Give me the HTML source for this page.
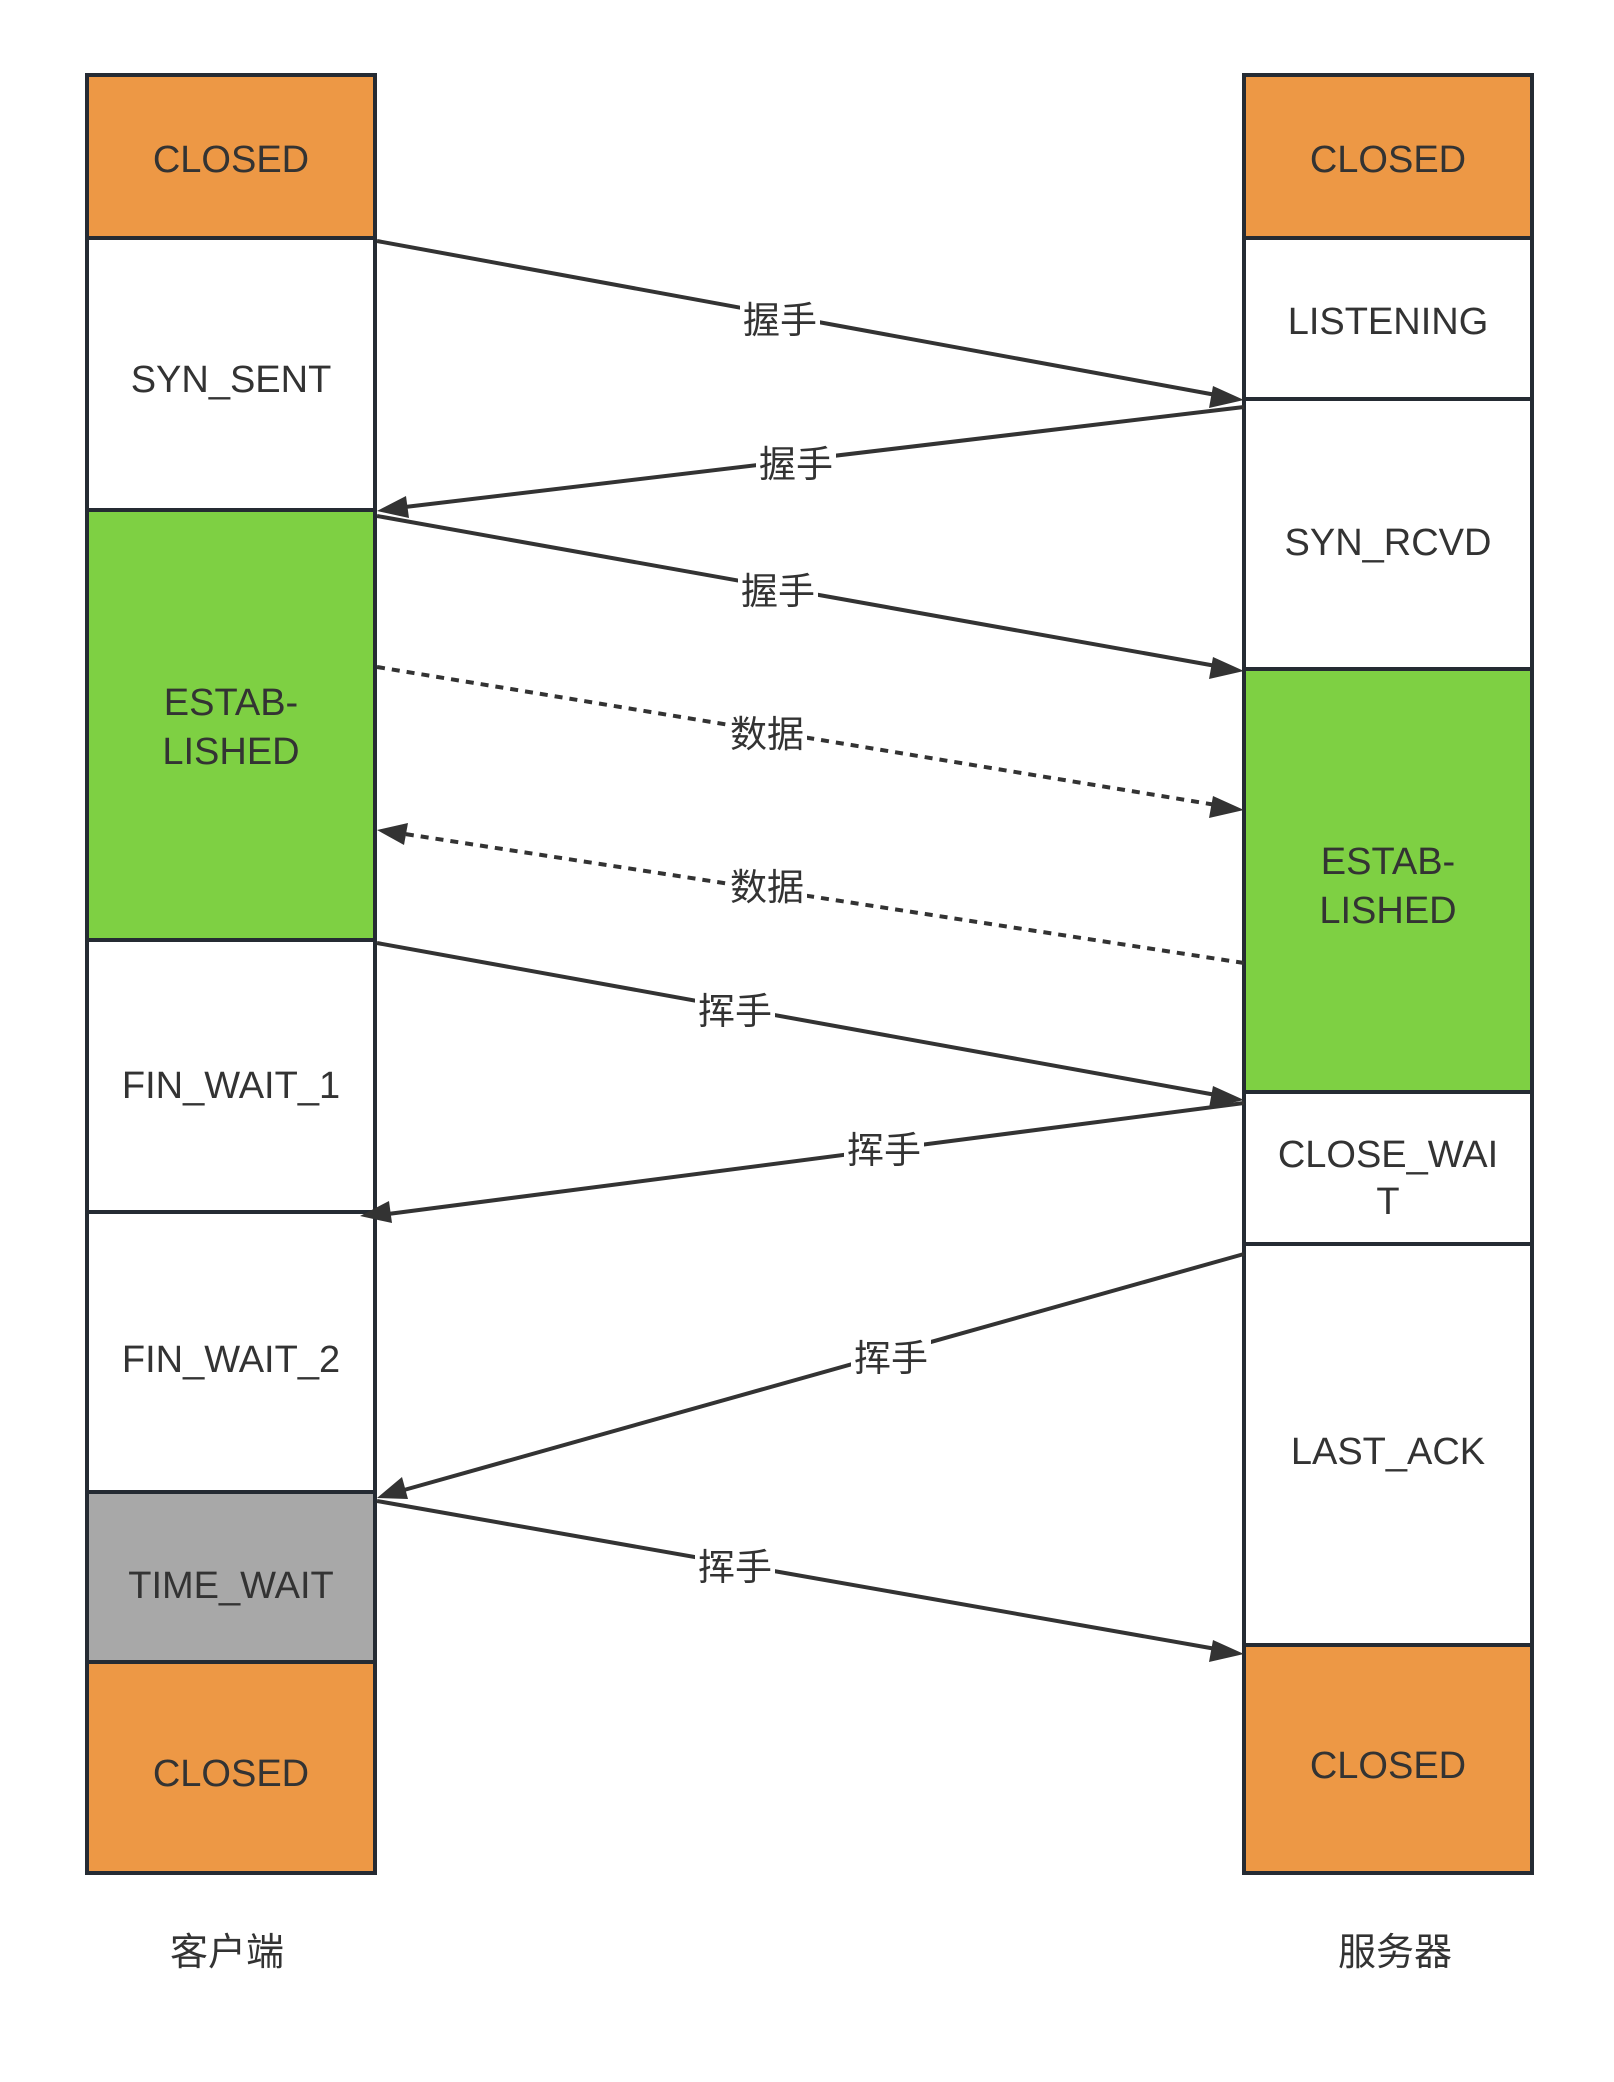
<!DOCTYPE html>
<html><head><meta charset="utf-8"><style>
html,body{margin:0;padding:0;background:#fff;}
svg{display:block;}
text{font-family:"Liberation Sans","Noto Sans CJK SC",sans-serif;fill:#333;}
</style></head><body>
<svg width="1614" height="2082" viewBox="0 0 1614 2082" xmlns="http://www.w3.org/2000/svg">
<g stroke="#252b33" stroke-width="4">
<rect x="87" y="75" width="288" height="163" fill="#ED9845"/>
<rect x="87" y="238" width="288" height="272" fill="#fff"/>
<rect x="87" y="510" width="288" height="430" fill="#7ED043"/>
<rect x="87" y="940" width="288" height="272" fill="#fff"/>
<rect x="87" y="1212" width="288" height="280" fill="#fff"/>
<rect x="87" y="1492" width="288" height="170" fill="#A8A8A8"/>
<rect x="87" y="1662" width="288" height="211" fill="#ED9845"/>
<rect x="1244" y="75" width="288" height="163" fill="#ED9845"/>
<rect x="1244" y="238" width="288" height="161" fill="#fff"/>
<rect x="1244" y="399" width="288" height="270" fill="#fff"/>
<rect x="1244" y="669" width="288" height="423" fill="#7ED043"/>
<rect x="1244" y="1092" width="288" height="152" fill="#fff"/>
<rect x="1244" y="1244" width="288" height="401" fill="#fff"/>
<rect x="1244" y="1645" width="288" height="228" fill="#ED9845"/>
</g>
<g font-size="38" text-anchor="middle">
<text x="231" y="172">CLOSED</text>
<text x="231" y="392">SYN_SENT</text>
<text x="231" y="715">ESTAB-</text>
<text x="231" y="764">LISHED</text>
<text x="231" y="1098">FIN_WAIT_1</text>
<text x="231" y="1372">FIN_WAIT_2</text>
<text x="231" y="1598">TIME_WAIT</text>
<text x="231" y="1786">CLOSED</text>
<text x="1388" y="172">CLOSED</text>
<text x="1388" y="334">LISTENING</text>
<text x="1388" y="555">SYN_RCVD</text>
<text x="1388" y="874">ESTAB-</text>
<text x="1388" y="923">LISHED</text>
<text x="1388" y="1167">CLOSE_WAI</text>
<text x="1388" y="1214">T</text>
<text x="1388" y="1464">LAST_ACK</text>
<text x="1388" y="1778">CLOSED</text>
<text x="227" y="1965">客户端</text>
<text x="1395" y="1965">服务器</text>
</g>
<g stroke="#333" stroke-width="4" fill="none">
<line x1="377" y1="241" x2="1216" y2="395"/>
<line x1="1244" y1="407" x2="405" y2="507"/>
<line x1="377" y1="516" x2="1216" y2="666"/>
<line x1="377" y1="667" x2="1216" y2="805" stroke-dasharray="8 7"/>
<line x1="1244" y1="963" x2="405" y2="834" stroke-dasharray="8 7"/>
<line x1="377" y1="943" x2="1216" y2="1095"/>
<line x1="1244" y1="1103" x2="388" y2="1214"/>
<line x1="1244" y1="1254" x2="404" y2="1490"/>
<line x1="377" y1="1501" x2="1216" y2="1649"/>
</g>
<g fill="#333">
<polygon points="1244,400 1213,386 1209,408"/>
<polygon points="377,511 406,496 409,518"/>
<polygon points="1244,671 1213,657 1209,679"/>
<polygon points="1244,810 1213,796 1209,818"/>
<polygon points="377,830 408,823 404,845"/>
<polygon points="1244,1100 1213,1086 1209,1108"/>
<polygon points="360,1216 389,1201 392,1223"/>
<polygon points="377,1498 402,1477 408,1499"/>
<polygon points="1244,1654 1213,1640 1209,1662"/>
</g>
<g font-size="37" text-anchor="middle">
<rect x="740" y="300" width="80" height="40" fill="#fff"/><text x="780" y="333">握手</text>
<rect x="756" y="444" width="80" height="40" fill="#fff"/><text x="796" y="477">握手</text>
<rect x="738" y="571" width="80" height="40" fill="#fff"/><text x="778" y="604">握手</text>
<rect x="727" y="714" width="80" height="40" fill="#fff"/><text x="767" y="747">数据</text>
<rect x="727" y="867" width="80" height="40" fill="#fff"/><text x="767" y="900">数据</text>
<rect x="695" y="991" width="80" height="40" fill="#fff"/><text x="735" y="1024">挥手</text>
<rect x="844" y="1130" width="80" height="40" fill="#fff"/><text x="884" y="1163">挥手</text>
<rect x="851" y="1338" width="80" height="40" fill="#fff"/><text x="891" y="1371">挥手</text>
<rect x="695" y="1547" width="80" height="40" fill="#fff"/><text x="735" y="1580">挥手</text>
</g>
</svg>
</body></html>
